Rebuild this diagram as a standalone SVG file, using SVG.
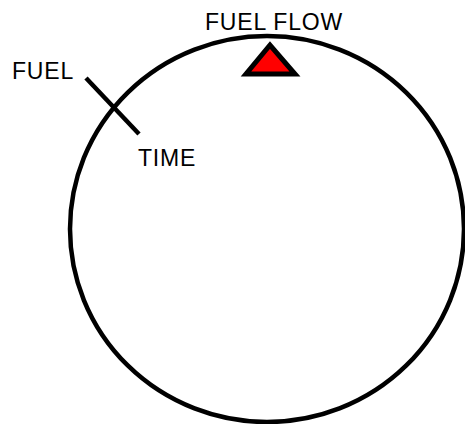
<svg xmlns="http://www.w3.org/2000/svg" width="465" height="424" viewBox="0 0 465 424">
<style>
.lbl{font-family:"Liberation Sans",Arial,sans-serif;font-size:23px;fill:#000;letter-spacing:0.8px}
.ln{stroke:#000;stroke-width:4.5;fill:none}
</style>
<rect width="465" height="424" fill="#fff"/>
<g id="dial">
<ellipse class="ln" cx="267" cy="229" rx="197" ry="193"/>
</g>
<g id="fuel-flow-marker">
<polygon points="270,45 246,74 295,74" fill="#ff0000" stroke="#000" stroke-width="5" stroke-linejoin="miter"/>
<text class="lbl" x="205" y="30">FUEL FLOW</text>
</g>
<g id="connectors">
<line class="ln" x1="86" y1="78" x2="139" y2="134"/>
</g>
<g id="fuel-label">
<text class="lbl" x="12" y="79">FUEL</text>
</g>
<g id="time-label">
<text class="lbl" x="138" y="166">TIME</text>
</g>
</svg>
